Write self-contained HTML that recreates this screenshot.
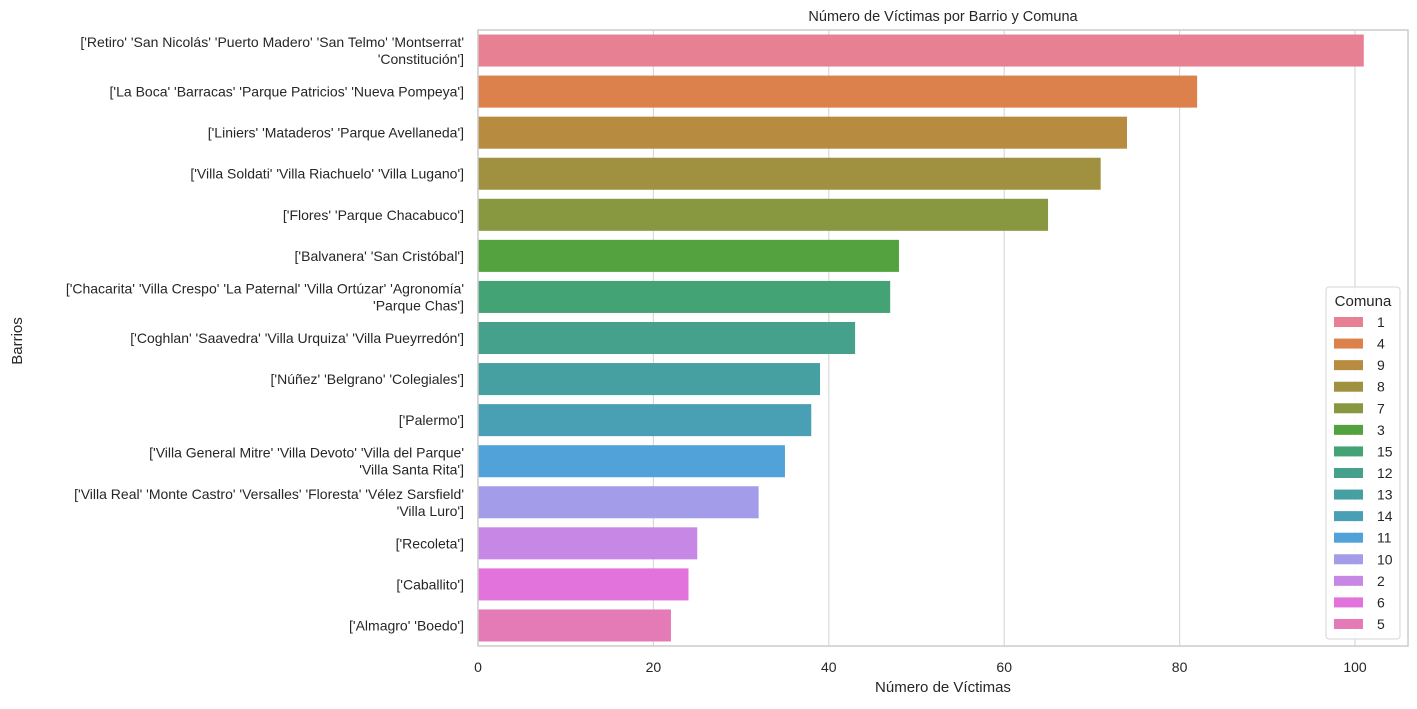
<!DOCTYPE html>
<html><head><meta charset="utf-8"><style>
body{margin:0;background:#fff;font-family:"Liberation Sans","DejaVu Sans",sans-serif;}
svg text{font-family:"Liberation Sans","DejaVu Sans",sans-serif;fill:#262626;}
</style></head><body>
<svg id="c" width="1417" height="704" xmlns="http://www.w3.org/2000/svg"></svg>
<script>
const categories=[
["['Retiro' 'San Nicolás' 'Puerto Madero' 'San Telmo' 'Montserrat'","'Constitución']"],
["['La Boca' 'Barracas' 'Parque Patricios' 'Nueva Pompeya']"],
["['Liniers' 'Mataderos' 'Parque Avellaneda']"],
["['Villa Soldati' 'Villa Riachuelo' 'Villa Lugano']"],
["['Flores' 'Parque Chacabuco']"],
["['Balvanera' 'San Cristóbal']"],
["['Chacarita' 'Villa Crespo' 'La Paternal' 'Villa Ortúzar' 'Agronomía'","'Parque Chas']"],
["['Coghlan' 'Saavedra' 'Villa Urquiza' 'Villa Pueyrredón']"],
["['Núñez' 'Belgrano' 'Colegiales']"],
["['Palermo']"],
["['Villa General Mitre' 'Villa Devoto' 'Villa del Parque'","'Villa Santa Rita']"],
["['Villa Real' 'Monte Castro' 'Versalles' 'Floresta' 'Vélez Sarsfield'","'Villa Luro']"],
["['Recoleta']"],
["['Caballito']"],
["['Almagro' 'Boedo']"]];
const values=[101,82,74,71,65,48,47,43,39,38,35,32,25,24,22];
const comunas=["1","4","9","8","7","3","15","12","13","14","11","10","2","6","5"];
const colors=["#e88093","#dc814c","#b88c40","#a09140","#889840","#54a23f","#44a375","#45a08c","#469fa0","#49a0b4","#52a2da","#a39ce8","#c787e5","#e272dc","#e57bb6"];
const xTicks=[0,20,40,60,80,100];
const svg=document.getElementById('c');const NS='http://www.w3.org/2000/svg';
function mk(t,a,p){const e=document.createElementNS(NS,t);for(const k in a)e.setAttribute(k,a[k]);(p||svg).appendChild(e);return e;}
const L=478,R=1408,T=30,B=646;
const x=v=>L+v*(1355-478)/100;
const band=(B-T)/values.length;
const y=i=>T+band*i+band/2;
xTicks.forEach(t=>{const g=mk('line',{x1:x(t),x2:x(t),y1:T,y2:B,stroke:'#d9d9d9','stroke-width':1.2});

const tx=mk('text',{x:x(t),y:B+26,'text-anchor':'middle','font-size':14});tx.textContent=t;
});
values.forEach((v,i)=>{const h=band*0.78;
const r=mk('rect',{x:x(0),y:y(i)-h/2,width:x(v)-x(0),height:h,fill:colors[i]});

const lines=categories[i];const n=lines.length;
lines.forEach((s,j)=>{const tx=mk('text',{x:464,y:y(i)+5+(j-(n-1)/2)*17,'text-anchor':'end','font-size':14});tx.textContent=s;
});});
const fr=mk('rect',{x:L,y:T,width:R-L,height:B-T,fill:'none',stroke:'#cccccc','stroke-width':1.5});

let t=mk('text',{x:(L+R)/2,y:21,'text-anchor':'middle','font-size':14.5});t.textContent='Número de Víctimas por Barrio y Comuna';

t=mk('text',{x:(L+R)/2,y:692,'text-anchor':'middle','font-size':15});t.textContent='Número de Víctimas';

t=mk('text',{x:22,y:341,'text-anchor':'middle','font-size':15,transform:'rotate(-90 22 341)'});t.textContent='Barrios';

const lg=mk('g',{});
mk('rect',{x:1326,y:287,width:74,height:352,rx:3,fill:'#fff','fill-opacity':0.85,stroke:'#d6d6d6'},lg);
t=mk('text',{x:1363,y:306,'text-anchor':'middle','font-size':15},lg);t.textContent='Comuna';
comunas.forEach((c,i)=>{const yy=322+i*21.57;
const e=mk('g',{},lg);
mk('rect',{x:1334,y:yy-5,width:29,height:10,fill:colors[i]},e);
const tt=mk('text',{x:1377,y:yy+5,'font-size':14},e);tt.textContent=c;});
</script></body></html>
